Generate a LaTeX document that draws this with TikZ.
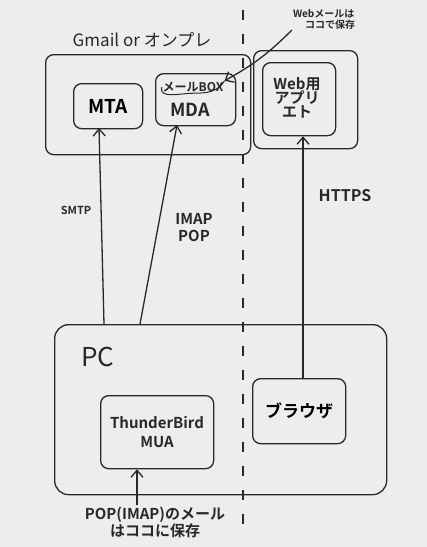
\documentclass[tikz,border=0pt]{standalone}
\usepackage{fontspec}
\setmainfont{Noto Sans CJK JP}[BoldFont={Noto Sans CJK JP Bold}]
\usetikzlibrary{arrows.meta}
\definecolor{board}{RGB}{236,238,238}
\definecolor{ink}{RGB}{40,40,40}
\tikzset{
  box/.style={draw=ink, line width=1.3pt, rounded corners=8pt},
  lbl/.style={text=ink, inner sep=1pt, align=center},
  conn/.style={draw=ink, line width=1.3pt, -{Straight Barb[length=7pt,width=12pt]}},
}
\begin{document}
\begin{tikzpicture}[x=1pt,y=-1pt]
\fill[board] (0,0) rectangle (427,547);
\useasboundingbox (0,0) rectangle (427,547);
% dashed divider
\draw[ink, line width=1.3pt, dash pattern=on 10pt off 14pt] (243,10) -- (243,535);
% server side
\node[lbl, font=\fontsize{17}{19}\selectfont] (title) at (142,40) {Gmail or オンプレ};
\node[box, minimum width=205, minimum height=100, anchor=north west] (gmail) at (45,54) {};
\node[box, minimum width=104, minimum height=98, anchor=north west] (websrv) at (253,50) {};
\node[box, minimum width=69, minimum height=45, anchor=north west, font=\bfseries\fontsize{19}{21}\selectfont] (mta) at (73,83) {MTA};
\node[box, minimum width=80, minimum height=52, anchor=north west] (mda) at (155,73) {};
\node[lbl, font=\bfseries\fontsize{12}{14}\selectfont] (mbox) at (193,87) {メールBOX};
\node[lbl, font=\bfseries\fontsize{18}{20}\selectfont] (mdatxt) at (190,110) {MDA};
\node[box, minimum width=73, minimum height=73, anchor=north west] (webapp) at (262,62) {};
\node[lbl, font=\bfseries\fontsize{15}{16}\selectfont] (webapptxt) at (297,98) {Web用\\[-2pt]アプリ\\[-2pt]エト};
\node[lbl, font=\bfseries\fontsize{10}{11}\selectfont, align=left] (note1) at (324,19) {Webメールは\\\hspace*{12pt}ココで保存};
\draw[conn] (note1.south west) to[bend left=8] (mbox.north east);
\draw[ink, line width=1pt] (mbox.north east) to[out=-120,in=0] (mbox.south) to[out=180,in=-100] (mbox.west);
% protocols
\node[lbl, font=\bfseries\fontsize{11}{13}\selectfont] (smtp) at (76,210) {SMTP};
\node[lbl, font=\bfseries\fontsize{15}{17}\selectfont] (imap) at (194,228) {IMAP\\POP};
\node[lbl, font=\bfseries\fontsize{16}{18}\selectfont] (https) at (345,196) {HTTPS};
% PC side
\node[box, minimum width=332, minimum height=170, anchor=north west, rounded corners=14pt] (pc) at (54,324) {};
\node[lbl, font=\fontsize{26}{28}\selectfont] (pctxt) at (98,357) {PC};
\node[box, minimum width=113, minimum height=73, anchor=north west] (mua) at (100,395) {};
\node[lbl, font=\bfseries\fontsize{15}{19}\selectfont] (muatxt) at (157,432) {ThunderBird\\MUA};
\node[box, minimum width=93, minimum height=65, anchor=north west, font=\bfseries\fontsize{17}{19}\selectfont] (browser) at (252,378) {ブラウザ};
\node[lbl, font=\bfseries\fontsize{15}{17}\selectfont] (note2) at (155,522) {POP(IMAP)のメール\\はココに保存};
% connectors
\coordinate (smtpA) at (104,324);
\coordinate (smtpB) at (99,128);
\coordinate (imapA) at (140,324);
\coordinate (imapB) at (177,125);
\draw[conn] (smtpA) -- (smtpB);
\draw[conn] (imapA) -- (imapB);
\draw[conn] (browser.north -| 303,0) -- (webapp.south -| 303,0);
\draw[conn] (note2.north -| 137,0) -- (mua.south -| 137,0);
\end{tikzpicture}
\end{document}
